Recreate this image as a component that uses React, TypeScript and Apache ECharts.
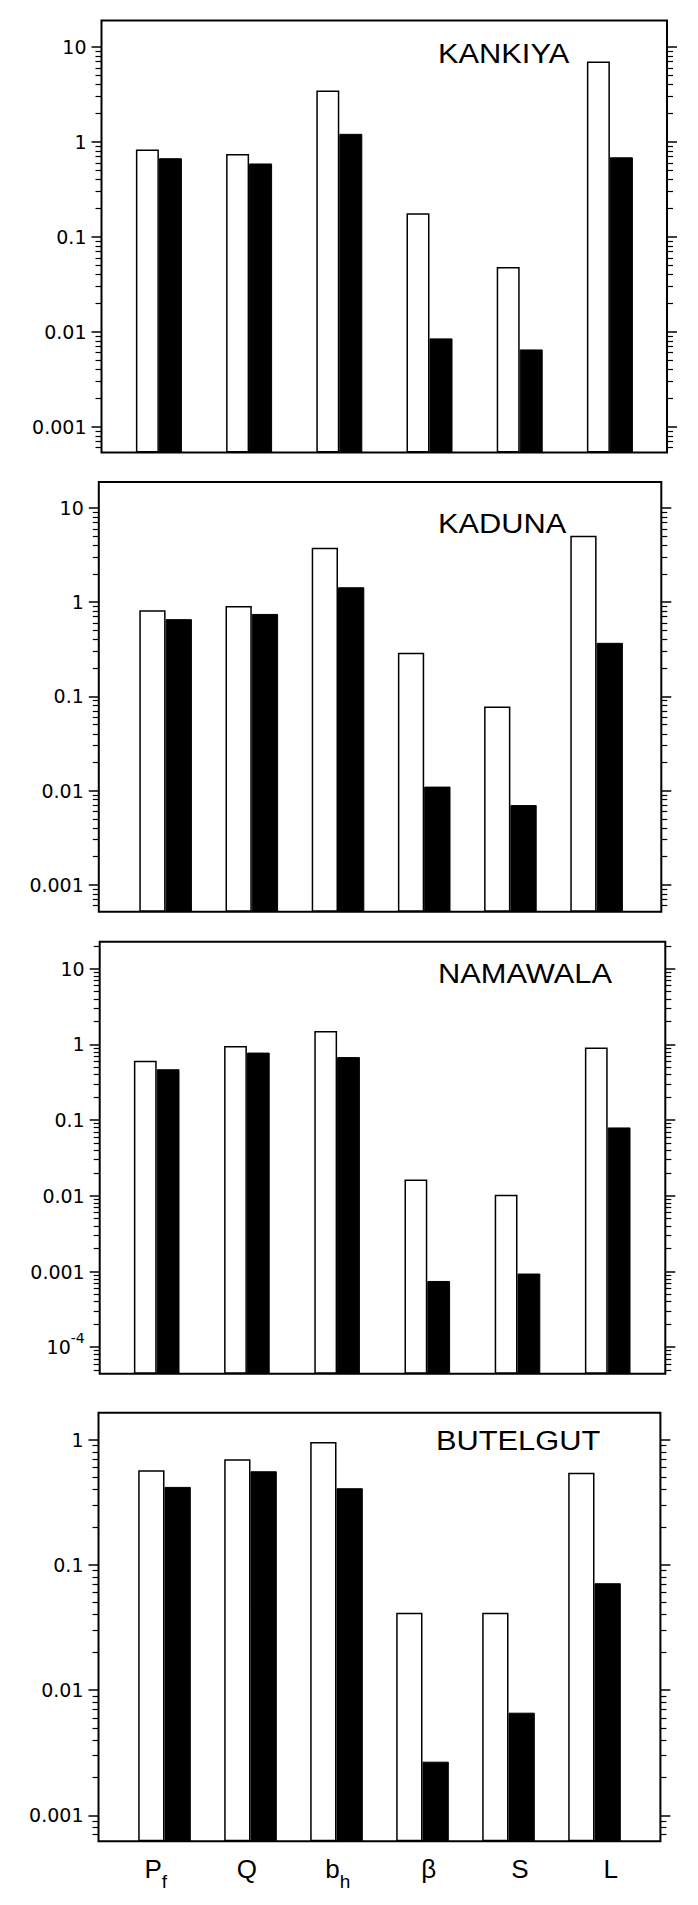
import React, { useEffect, useRef } from 'react';
import * as echarts from 'echarts';

// ---- data ----
const categories = ['Pf', 'Q', 'bh', 'β', 'S', 'L'];
const panelNames = ['KANKIYA', 'KADUNA', 'NAMAWALA', 'BUTELGUT'];

const kankiyaOpen = [0.83, 0.74, 3.45, 0.176, 0.048, 6.97];
const kankiyaFilled = [0.67, 0.59, 1.21, 0.0085, 0.0065, 0.685];
const kadunaOpen = [0.82, 0.91, 3.78, 0.29, 0.078, 5.06];
const kadunaFilled = [0.66, 0.75, 1.44, 0.011, 0.007, 0.37];
const namawalaOpen = [0.61, 0.95, 1.5, 0.0164, 0.0103, 0.91];
const namawalaFilled = [0.47, 0.78, 0.68, 0.00075, 0.00094, 0.08];
const butelgutOpen = [0.57, 0.7, 0.96, 0.0414, 0.0415, 0.545];
const butelgutFilled = [0.42, 0.56, 0.41, 0.00268, 0.0066, 0.0714];

const ticksKankiya = [0.001, 0.01, 0.1, 1, 10];
const ticksKaduna = [0.001, 0.01, 0.1, 1, 10];
const ticksNamawala = [0.0001, 0.001, 0.01, 0.1, 1, 10];
const ticksButelgut = [0.001, 0.01, 0.1, 1];

const openSeries = [kankiyaOpen, kadunaOpen, namawalaOpen, butelgutOpen];
const filledSeries = [kankiyaFilled, kadunaFilled, namawalaFilled, butelgutFilled];
const tickSets = [ticksKankiya, ticksKaduna, ticksNamawala, ticksButelgut];

// ---- layout ----
const layouts = [
  { left: 101.5, right: 667, top: 20.5, bottom: 452.5, minExp: -3.272, maxExp: 1.276, barLeft: 113.8, barSpan: 541.2, bw: 23, titleX: 438, titleY: 52.7 },
  { left: 98.8, right: 661.3, top: 482, bottom: 911.7, minExp: -3.287, maxExp: 1.276, barLeft: 122.5, barSpan: 517.2, bw: 26.3, titleX: 438, titleY: 523.3 },
  { left: 99.7, right: 665.3, top: 941.7, bottom: 1373.7, minExp: -4.35, maxExp: 1.357, barLeft: 111.6, barSpan: 541.2, bw: 22.8, titleX: 438, titleY: 973.3 },
  { left: 98.5, right: 660.4, top: 1412.7, bottom: 1841.3, minExp: -3.208, maxExp: 0.216, barLeft: 121.5, barSpan: 516, bw: 26.3, titleX: 436, titleY: 1440 },
];
const labelRow = { left: 110.3, width: 546 };

const FONT_TICK = 'DejaVu Sans';
const FONT_TEXT = 'Liberation Sans';

function minorTicks(minExp: number, maxExp: number): number[] {
  const out: number[] = [];
  for (let e = Math.floor(minExp); e <= Math.ceil(maxExp); e++) {
    for (let k = 2; k <= 9; k++) {
      const v = parseFloat((k * Math.pow(10, e)).toPrecision(6));
      const l = Math.log10(v);
      if (l > minExp && l < maxExp) out.push(v);
    }
  }
  return out;
}

function tickLabel(v: number): string {
  if (v < 0.0005) return '{n|10}{p|-4}';
  return '{n|' + String(v) + '}';
}

function catLabel(c: string): string {
  if (c === 'Pf') return '{m|P}{s|f}';
  if (c === 'bh') return '{m|b}{s|h}';
  return '{m|' + c + '}';
}

function buildOption() {
  const grid: any[] = [];
  const xAxis: any[] = [];
  const yAxis: any[] = [];
  const series: any[] = [];
  const graphic: any[] = [];

  layouts.forEach((L, i) => {
    const min = Math.pow(10, L.minExp);
    const max = Math.pow(10, L.maxExp);
    const h = L.bottom - L.top;
    grid.push({
      left: L.left, top: L.top, width: L.right - L.left, height: h,
      show: true, borderColor: '#000', borderWidth: 2, backgroundColor: 'transparent',
    });
    grid.push({ left: L.barLeft, top: L.top, width: L.barSpan, height: h });
    xAxis.push({ gridIndex: 2 * i, type: 'value', min: 0, max: 1, show: false });
    xAxis.push({ gridIndex: 2 * i + 1, type: 'category', data: categories, show: false });

    const ticks = tickSets[i];
    const minors = minorTicks(L.minExp, L.maxExp);
    const common = {
      gridIndex: 2 * i, type: 'log', logBase: 10, min, max,
      axisLine: { show: false }, splitLine: { show: false }, minorTick: { show: false },
    };
    yAxis.push({
      ...common, position: 'left',
      axisTick: { show: true, inside: false, length: 10, lineStyle: { color: '#000', width: 1.5 }, customValues: ticks },
      axisLabel: {
        show: true, customValues: ticks, margin: 15, color: '#000',
        formatter: (v: number) => tickLabel(v),
        rich: {
          n: { fontFamily: FONT_TICK, fontSize: 19, lineHeight: 32, color: '#000' },
          p: { fontFamily: FONT_TICK, fontSize: 14, lineHeight: 4, verticalAlign: 'top', color: '#000' },
        },
      },
    });
    yAxis.push({
      ...common, position: 'left',
      axisTick: { show: true, inside: false, length: 6, lineStyle: { color: '#000', width: 1.2 }, customValues: minors },
      axisLabel: { show: false },
    });
    yAxis.push({
      ...common, position: 'right',
      axisTick: { show: true, inside: false, length: 10, lineStyle: { color: '#000', width: 1.5 }, customValues: ticks },
      axisLabel: { show: false },
    });
    yAxis.push({
      ...common, position: 'right',
      axisTick: { show: true, inside: false, length: 6, lineStyle: { color: '#000', width: 1.2 }, customValues: minors },
      axisLabel: { show: false },
    });
    yAxis.push({
      gridIndex: 2 * i + 1, type: 'log', logBase: 10, min, max, startValue: min, show: false,
    });

    const yIdx = i * 5 + 4;
    series.push({
      type: 'bar', xAxisIndex: 2 * i + 1, yAxisIndex: yIdx, data: openSeries[i],
      barWidth: L.bw, barGap: '0%',
      itemStyle: { color: '#fff', borderColor: '#000', borderWidth: 1.5 },
    });
    series.push({
      type: 'bar', xAxisIndex: 2 * i + 1, yAxisIndex: yIdx, data: filledSeries[i],
      barWidth: L.bw, barGap: '0%',
      itemStyle: { color: '#000', borderColor: '#000', borderWidth: 1 },
    });

    graphic.push({
      type: 'text', x: L.titleX, y: L.titleY, scaleX: 1.1, z: 10,
      style: { text: panelNames[i], font: '28px "Liberation Sans"', fill: '#000', align: 'left', verticalAlign: 'middle' },
    });
  });

  // label row under the last panel
  const last = layouts[3];
  grid.push({ left: labelRow.left, top: last.bottom - 1, width: labelRow.width, height: 1 });
  xAxis.push({
    gridIndex: 8, type: 'category', data: categories, position: 'bottom',
    axisLine: { show: false }, axisTick: { show: false },
    axisLabel: {
      show: true, margin: 6, interval: 0,
      formatter: (c: string) => catLabel(c),
      rich: {
        m: { fontFamily: FONT_TEXT, fontSize: 26, lineHeight: 44, color: '#000' },
        s: { fontFamily: FONT_TEXT, fontSize: 19, lineHeight: 4, verticalAlign: 'bottom', color: '#000' },
      },
    },
  });
  yAxis.push({ gridIndex: 8, type: 'value', show: false });

  return {
    animation: false,
    backgroundColor: '#fff',
    grid, xAxis, yAxis, series, graphic,
  };
}

export default function App() {
  const ref = useRef<HTMLDivElement>(null);
  useEffect(() => {
    if (!ref.current) return;
    const chart = echarts.init(ref.current, null, { renderer: 'svg' });
    chart.setOption(buildOption() as any);
    return () => chart.dispose();
  }, []);
  return (
    <div
      ref={ref}
      style={{ position: 'absolute', left: 0, top: 0, width: 698, height: 1905, background: '#fff' }}
    />
  );
}
